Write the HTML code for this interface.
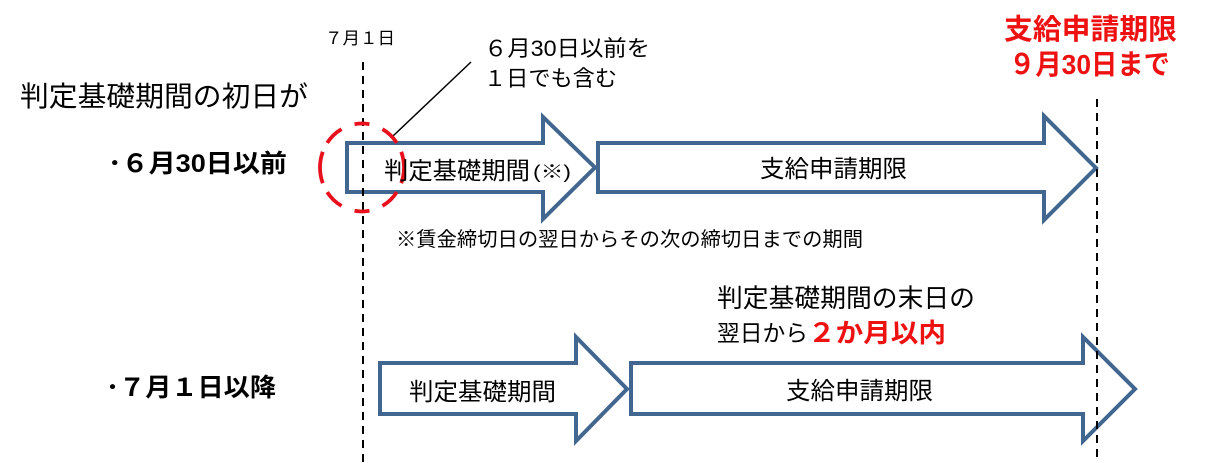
<!DOCTYPE html>
<html lang="ja">
<head>
<meta charset="utf-8">
<style>
html,body{margin:0;padding:0;background:#fff;width:1227px;height:463px;overflow:hidden}
svg{display:block}
text{font-family:"Liberation Sans","Noto Sans CJK JP",sans-serif;fill:#000;text-anchor:start}
.r{fill:#ee1111;font-weight:bold}
.b{font-weight:bold}
</style>
</head>
<body>
<svg width="1227" height="463" viewBox="0 0 1227 463" xmlns="http://www.w3.org/2000/svg">
<g fill="#fff" stroke="#41668f" stroke-width="4" stroke-linejoin="miter" stroke-miterlimit="6">
<polygon points="347,143 543,143 543,117 595,167.500 543,219 543,192 347,192"/>
<polygon points="598,143 1044,143 1044,116 1096,168 1044,220 1044,192 598,192"/>
<polygon points="380,363 576,363 576,337 627,389 576,441 576,414 380,414"/>
<polygon points="631,363 1083,363 1083,337 1135,389 1083,441 1083,414 631,414"/>
</g>
<g stroke="#000" stroke-width="2" stroke-dasharray="8 6" fill="none">
<line x1="363" y1="62" x2="363" y2="463"/>
<line x1="1097" y1="99" x2="1097" y2="460"/>
</g>
<line x1="393" y1="136" x2="471" y2="62" stroke="#000" stroke-width="1.500"/>
<ellipse cx="362" cy="167.500" rx="42" ry="44" fill="none" stroke="#e8101c" stroke-width="3.800" pathLength="270" stroke-dasharray="16 10 20 14 15 14 20 10 32 10 20 14 15 14 20 10 16"/>

<text x="20" y="106" font-size="28" textLength="288" lengthAdjust="spacingAndGlyphs">判定基礎期間の初日が</text>
<text x="108" y="172" font-size="25" class="b" textLength="179" lengthAdjust="spacingAndGlyphs">･６月30日以前</text>
<text x="325" y="44" font-size="17" textLength="70" lengthAdjust="spacingAndGlyphs">７月１日</text>
<text x="484" y="56" font-size="22" textLength="166" lengthAdjust="spacingAndGlyphs">６月30日以前を</text>
<text x="484" y="86" font-size="22" textLength="133" lengthAdjust="spacingAndGlyphs">１日でも含む</text>
<text x="1004" y="39" font-size="28.500" class="r" textLength="173" lengthAdjust="spacingAndGlyphs">支給申請期限</text>
<text x="1009" y="74" font-size="28" class="r" textLength="161" lengthAdjust="spacingAndGlyphs">９月30日まで</text>
<text x="384" y="179" font-size="24" textLength="146" lengthAdjust="spacingAndGlyphs">判定基礎期間</text>
<text x="533" y="178" font-size="18" textLength="38" lengthAdjust="spacingAndGlyphs">(※)</text>
<text x="760" y="177" font-size="24" textLength="147" lengthAdjust="spacingAndGlyphs">支給申請期限</text>
<text x="396" y="246" font-size="20" textLength="467" lengthAdjust="spacingAndGlyphs">※賃金締切日の翌日からその次の締切日までの期間</text>
<text x="717" y="307" font-size="25.500" textLength="258" lengthAdjust="spacingAndGlyphs">判定基礎期間の末日の</text>
<text x="717" y="341" font-size="23" textLength="91" lengthAdjust="spacingAndGlyphs">翌日から</text>
<text x="808" y="342" font-size="26" class="r" textLength="138" lengthAdjust="spacingAndGlyphs">２か月以内</text>
<text x="106" y="396" font-size="25" class="b" textLength="170" lengthAdjust="spacingAndGlyphs">･７月１日以降</text>
<text x="409" y="400" font-size="24" textLength="147" lengthAdjust="spacingAndGlyphs">判定基礎期間</text>
<text x="786" y="399" font-size="24" textLength="147" lengthAdjust="spacingAndGlyphs">支給申請期限</text>
</svg>
</body>
</html>
